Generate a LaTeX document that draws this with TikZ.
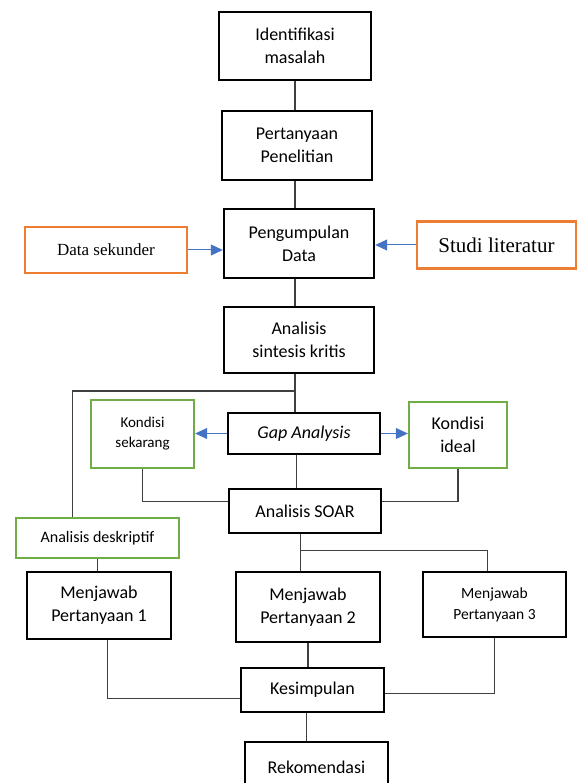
\documentclass[tikz,border=0pt]{standalone}
\usepackage{fontspec}
\setmainfont{Carlito}
\newfontfamily\timesfont{Liberation Serif}
\usetikzlibrary{arrows.meta,calc}
\definecolor{srcOrange}{RGB}{237,125,49}
\definecolor{condGreen}{RGB}{112,173,71}
\definecolor{flowBlue}{RGB}{68,114,196}
\definecolor{linkGray}{RGB}{64,64,64}

\begin{document}
\begin{tikzpicture}[x=1pt,y=-1pt,
  mainbox/.style={draw=black,line width=2.4pt,align=center,inner sep=0pt,font=\fontsize{18}{23}\selectfont},
  srcbox/.style={draw=srcOrange,line width=2.4pt,inner sep=0pt},
  condbox/.style={draw=condGreen,line width=2.4pt,align=center,inner sep=0pt},
  link/.style={draw=linkGray,line width=1.3pt},
  flow/.style={draw=flowBlue,line width=1pt,-{Triangle[length=12pt,width=11pt]}}]

\useasboundingbox (0,0) rectangle (577,783);
\clip (0,0) rectangle (577,783);

% the black process boxes: name/x/y/width/height/text
\foreach \name/\cx/\cy/\w/\h/\txt in {
  idm/295/46/152/68/{Identifikasi\\masalah},
  pp/297/145.5/150/69/{Pertanyaan\\Penelitian},
  pd/299/243.5/150/69/{Pengumpulan\\Data},
  ask/299/340/150/66/{Analisis\\sintesis kritis},
  ga/304/433.5/152/41/{\textit{Gap Analysis}},
  soar/305/511/152/44/{Analisis SOAR},
  mp1/99/605.5/144/67/{Menjawab\\Pertanyaan 1},
  mp2/308/607/144/70/{Menjawab\\Pertanyaan 2},
  kes/312.5/690/143/44/{Kesimpulan},
  rek/316.5/767/143/50/{Rekomendasi}}
  \node[mainbox,minimum width=\w pt,minimum height=\h pt] (\name) at (\cx,\cy) {\txt};

\node[mainbox,minimum width=143pt,minimum height=65pt,font=\fontsize{15.5}{21}\selectfont]
  (mp3) at (494.5,604.5) {Menjawab\\Pertanyaan 3};

% the sources
\node[srcbox,minimum width=162pt,minimum height=46pt,font=\timesfont\fontsize{17}{20}\selectfont]
  (ds) at (106,250) {Data sekunder};
\node[srcbox,minimum width=159pt,minimum height=47pt,font=\timesfont\fontsize{21}{24}\selectfont]
  (sl) at (496.5,245) {Studi literatur};

% the conditions
\node[condbox,minimum width=103pt,minimum height=68pt,font=\fontsize{15}{20}\selectfont]
  (ks) at (142.5,434) {Kondisi\\sekarang};
\node[condbox,minimum width=98pt,minimum height=66pt,font=\fontsize{18}{23}\selectfont]
  (ki) at (458,435) {Kondisi\\ideal};
\node[condbox,minimum width=163pt,minimum height=40pt,font=\fontsize{16}{20}\selectfont]
  (ad) at (97.5,538) {Analisis deskriptif};

% points where the lines leave or join the boxes
\coordinate (split) at ($(ask.south)!0.45!(ask.south |- ga.north)$);
\coordinate (adIn) at ($(ad.north west)!0.35!(ad.north east)$);
\coordinate (gaOut) at ($(ga.south west)!0.45!(ga.south east)$);
\coordinate (soarL) at ($(soar.north west)!0.3!(soar.south west)$);
\coordinate (soarR) at ($(soar.north east)!0.3!(soar.south east)$);
\coordinate (soarOut) at ($(soar.south west)!0.47!(soar.south east)$);
\coordinate (branch) at ($(soarOut)!0.44!(soarOut |- mp2.north)$);
\coordinate (mp3In) at ($(mp3.north west)!0.45!(mp3.north east)$);
\coordinate (mp1Out) at ($(mp1.south west)!0.56!(mp1.south east)$);
\coordinate (kesL) at ($(kes.north west)!0.68!(kes.south west)$);
\coordinate (kesR) at ($(kes.north east)!0.57!(kes.south east)$);
\coordinate (kesOut) at ($(kes.south west)!0.46!(kes.south east)$);

% draw the main line
\draw[link] (idm.south) -- (idm.south |- pp.north);
\draw[link] (idm.south |- pp.south) -- (idm.south |- pd.north);
\draw[link] (idm.south |- pd.south) -- (idm.south |- ask.north);
\draw[link] (idm.south |- ask.south) -- (idm.south |- ga.north);
\draw[link] (idm.south |- split) -| (adIn);
\draw[link] (gaOut) -- (gaOut |- soar.north);
\draw[link] (ks.south) |- (soarL);
\draw[link] (ki.south) |- (soarR);
\draw[link] (soarOut) -- (soarOut |- mp2.north);
\draw[link] (branch) -| (mp3In);
\draw[link] (ad.south) -- (ad.south |- mp1.north);
\draw[link] (mp1Out) |- (kesL);
\draw[link] (mp2.south) -- (mp2.south |- kes.north);
\draw[link] (mp3.south) |- (kesR);
\draw[link] (kesOut) -- (kesOut |- rek.north);

% draw the blue arrows
\draw[flow] (ds.east) -- (ds.east -| pd.west);
\draw[flow] (sl.west) -- (sl.west -| pd.east);
\draw[flow] (ga.west) -- (ga.west -| ks.east);
\draw[flow] (ga.east) -- (ga.east -| ki.west);

\end{tikzpicture}
\end{document}
